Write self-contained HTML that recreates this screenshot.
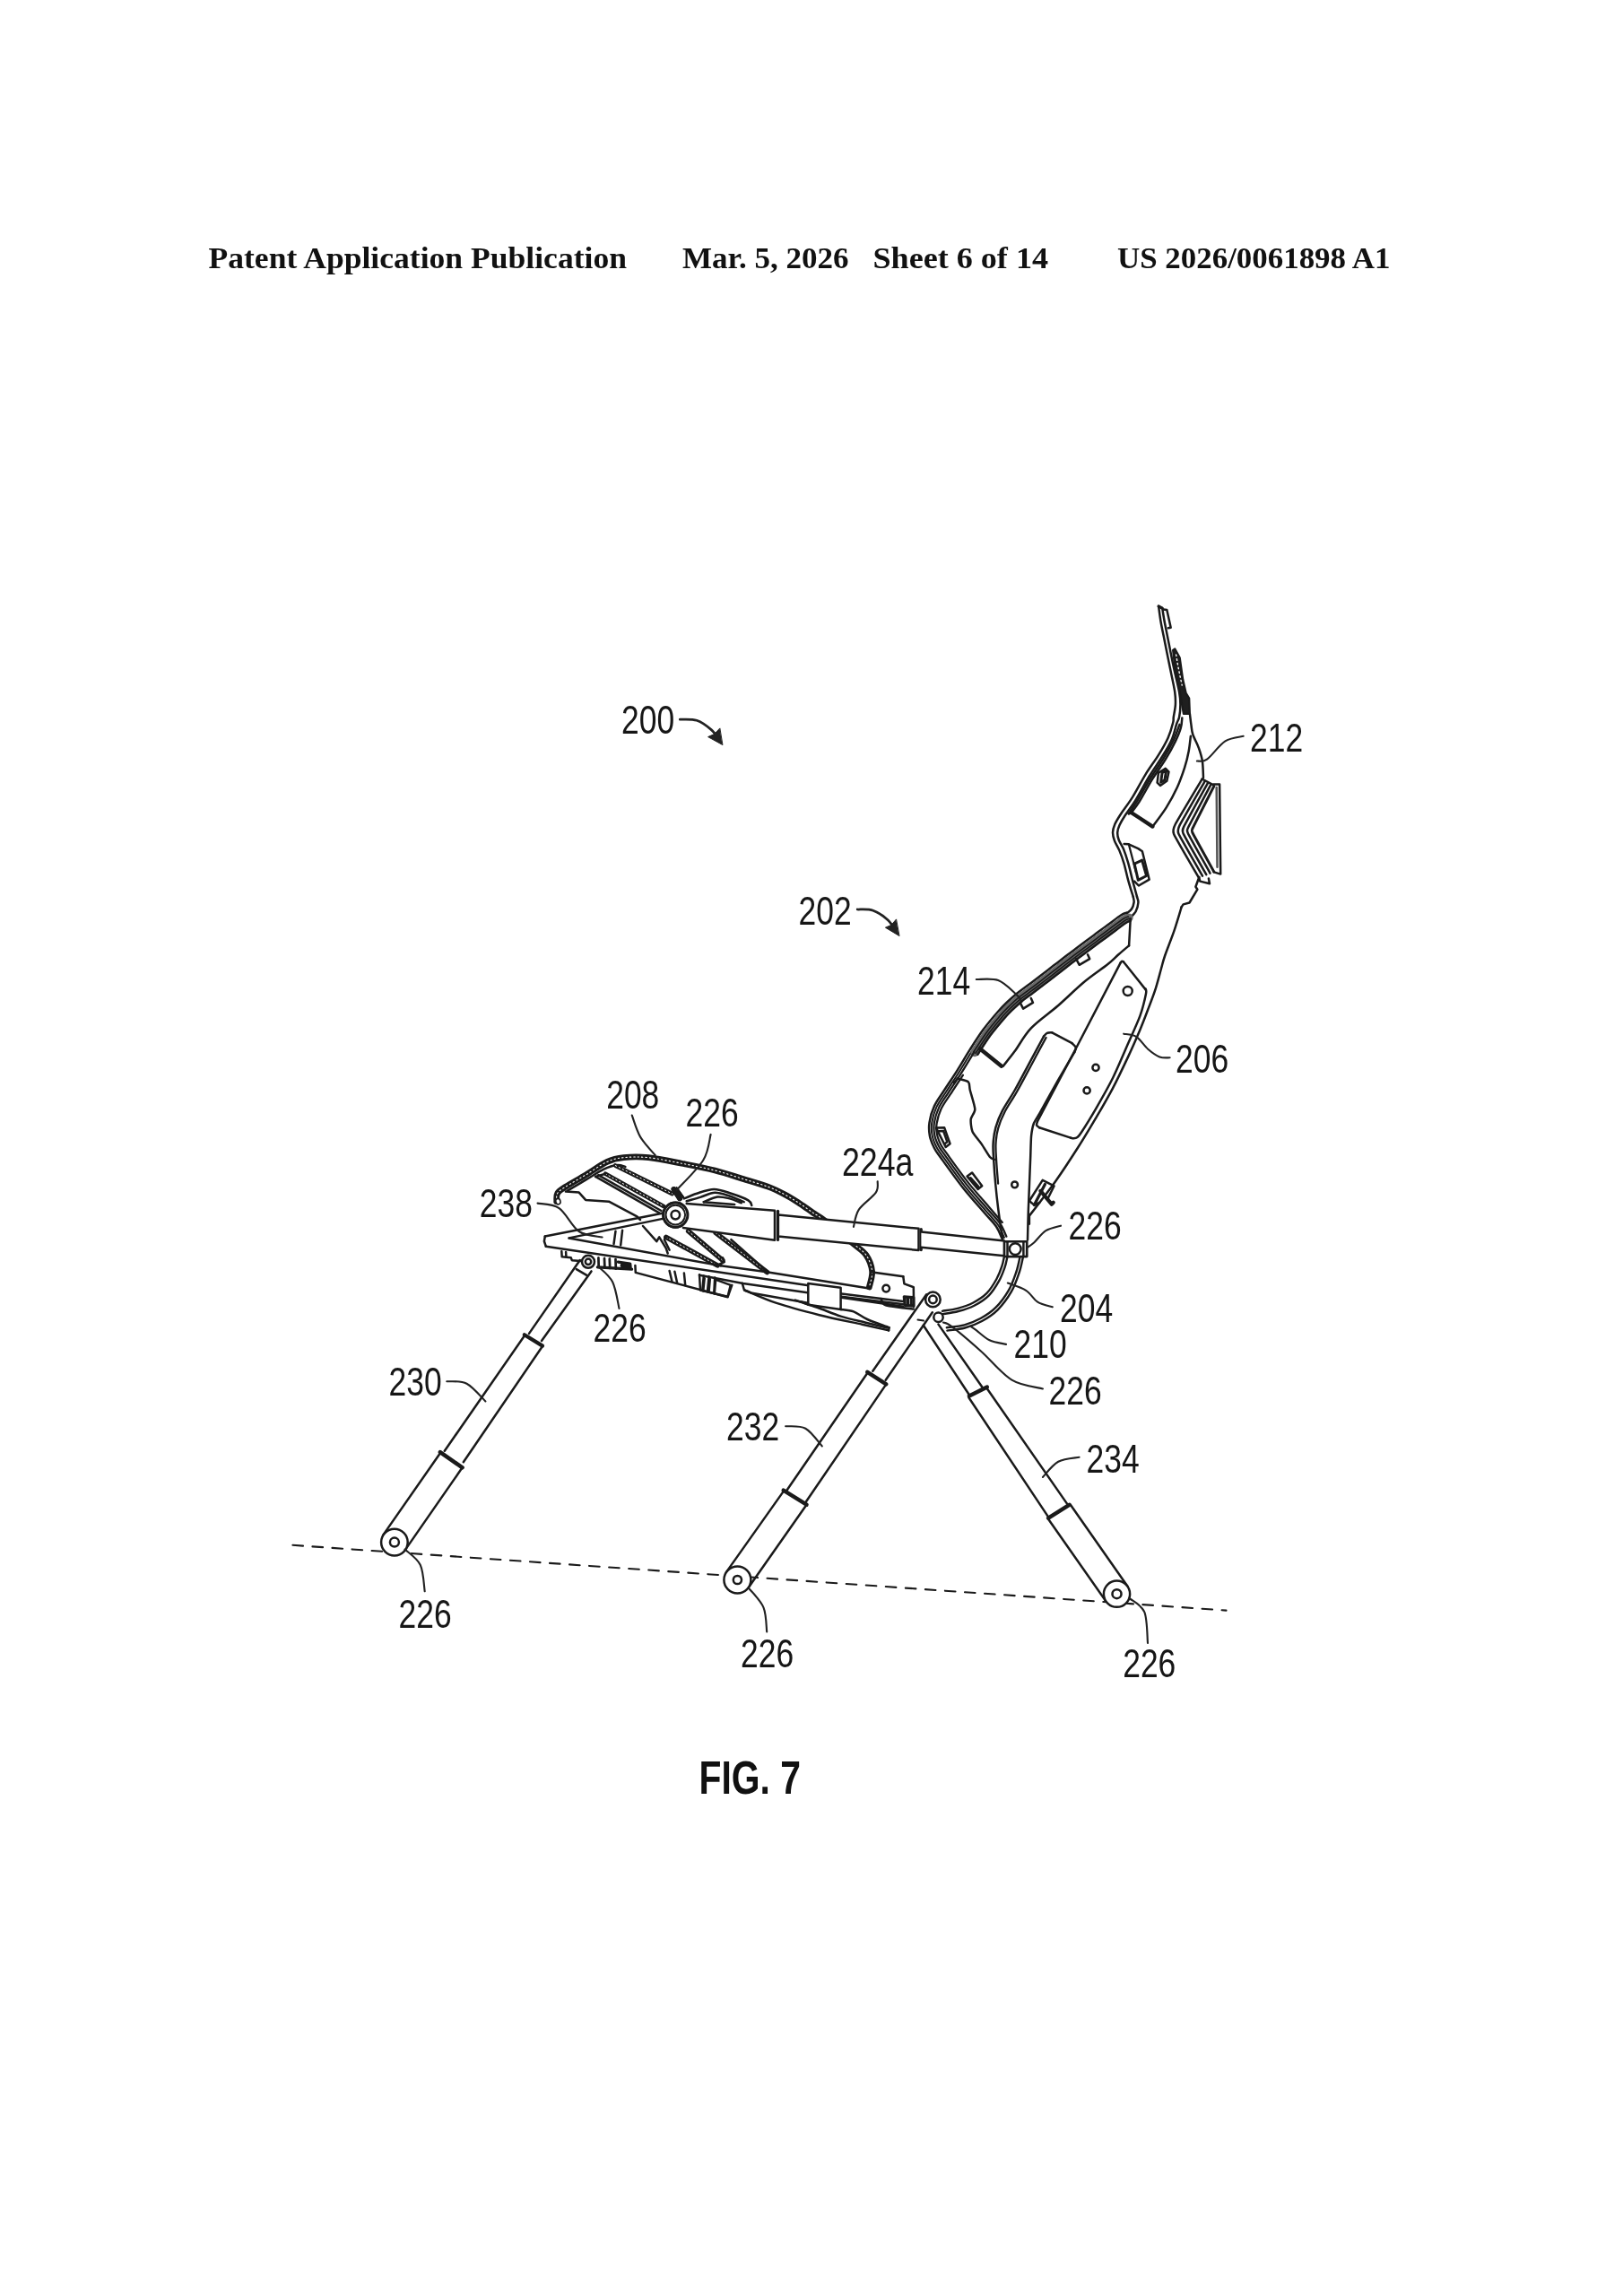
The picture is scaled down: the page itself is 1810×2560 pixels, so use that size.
<!DOCTYPE html>
<html><head><meta charset="utf-8"><title>FIG. 7</title>
<style>
html,body{margin:0;padding:0;background:#fff;}
body{width:1810px;height:2560px;overflow:hidden;font-family:"Liberation Sans",sans-serif;}
svg{position:absolute;left:0;top:0;display:block;filter:grayscale(1)}
svg path, svg polyline{fill:none;stroke-linecap:round;stroke-linejoin:round}
.hd{font-family:"Liberation Serif",serif;font-weight:bold;font-size:34px;fill:#111}
.lb{font-family:"Liberation Sans",sans-serif;font-size:43.5px;fill:#161616}
.fig{font-family:"Liberation Sans",sans-serif;font-weight:bold;font-size:51px;fill:#111}
</style></head><body>
<svg width="1810" height="2560" viewBox="0 0 1810 2560">
<rect x="0" y="0" width="1810" height="2560" fill="#ffffff" stroke="none"/>
<text x="232.5" y="298.6" class="hd" textLength="466.5" lengthAdjust="spacingAndGlyphs" text-anchor="start">Patent Application Publication</text>
<text x="761" y="298.6" class="hd" textLength="185.5" lengthAdjust="spacingAndGlyphs" text-anchor="start">Mar. 5, 2026</text>
<text x="973.5" y="298.6" class="hd" textLength="195.5" lengthAdjust="spacingAndGlyphs" text-anchor="start">Sheet 6 of 14</text>
<text x="1246" y="298.6" class="hd" textLength="304.5" lengthAdjust="spacingAndGlyphs" text-anchor="start">US 2026/0061898 A1</text>
<path d="M326.4 1722.8 L1367.5 1795.6" stroke="#1a1a1a" stroke-width="2.1" stroke-dasharray="11.6 10.5"/>
<path d="M646.8 1405 L590 1486.9" stroke="#1a1a1a" stroke-width="2.5" />
<path d="M659.5 1417.4 L604 1495" stroke="#1a1a1a" stroke-width="2.5" />
<path d="M642.8 1415.1 L654.3 1421.8" stroke="#1a1a1a" stroke-width="2.5" />
<path d="M584.8 1488.3 L605 1500.6" stroke="#1a1a1a" stroke-width="4.25" />
<path d="M584.6 1489.7 L495.8 1617.8" stroke="#1a1a1a" stroke-width="2.5" />
<path d="M604.3 1502 L516.8 1630.2" stroke="#1a1a1a" stroke-width="2.5" />
<path d="M490.9 1619.1 L515.6 1636.3" stroke="#1a1a1a" stroke-width="4.5" />
<path d="M490.9 1620.3 L427.2 1711.6" stroke="#1a1a1a" stroke-width="2.5" />
<path d="M515.6 1636.3 L452.2 1727.6" stroke="#1a1a1a" stroke-width="2.5" />
<circle cx="439.9" cy="1719.6" r="14.8" stroke="#1a1a1a" stroke-width="2.5" fill="#fff"/>
<circle cx="439.9" cy="1719.6" r="5" stroke="#1a1a1a" stroke-width="2.5" fill="none"/>
<path d="M1033.2 1443.3 L973.3 1528.7" stroke="#1a1a1a" stroke-width="2.5" />
<path d="M1039.8 1463.3 L987.7 1538.7" stroke="#1a1a1a" stroke-width="2.5" />
<path d="M967.3 1529.8 L988.3 1543.4" stroke="#1a1a1a" stroke-width="4.5" />
<path d="M967.3 1531 L877.4 1661.7" stroke="#1a1a1a" stroke-width="2.5" />
<path d="M988.3 1543.4 L898.3 1675.2" stroke="#1a1a1a" stroke-width="2.5" />
<path d="M873.7 1661.7 L899.5 1677.7" stroke="#1a1a1a" stroke-width="4.5" />
<path d="M873.7 1662.9 L810 1752.9" stroke="#1a1a1a" stroke-width="2.5" />
<path d="M899.5 1677.7 L834.8 1770" stroke="#1a1a1a" stroke-width="2.5" />
<circle cx="822.4" cy="1761.5" r="15" stroke="#1a1a1a" stroke-width="2.5" fill="#fff"/>
<circle cx="822.4" cy="1761.5" r="4.6" stroke="#1a1a1a" stroke-width="2.5" fill="none"/>
<path d="M1029.8 1477.7 L1080.9 1555.3" stroke="#1a1a1a" stroke-width="2.5" />
<path d="M1046.5 1476.6 L1095.3 1546.5" stroke="#1a1a1a" stroke-width="2.5" />
<path d="M1080.9 1556.5 L1100.8 1546.5" stroke="#1a1a1a" stroke-width="4.5" />
<path d="M1080.4 1558.3 L1169.1 1691.4" stroke="#1a1a1a" stroke-width="2.5" />
<path d="M1100.1 1547.2 L1190 1676.6" stroke="#1a1a1a" stroke-width="2.5" />
<path d="M1169.1 1692.6 L1192.5 1677.8" stroke="#1a1a1a" stroke-width="4.5" />
<path d="M1169.1 1693.8 L1233.5 1785.6" stroke="#1a1a1a" stroke-width="2.5" />
<path d="M1193.8 1677.8 L1257.5 1768.8" stroke="#1a1a1a" stroke-width="2.5" />
<circle cx="1245.5" cy="1777.2" r="14.6" stroke="#1a1a1a" stroke-width="2.5" fill="#fff"/>
<circle cx="1245.5" cy="1777.2" r="5" stroke="#1a1a1a" stroke-width="2.5" fill="none"/>
<text x="693" y="817.6" class="lb" textLength="59.1" lengthAdjust="spacingAndGlyphs" text-anchor="start">200</text>
<text x="890.5" y="1031.4" class="lb" textLength="59.1" lengthAdjust="spacingAndGlyphs" text-anchor="start">202</text>
<text x="1023" y="1108.9" class="lb" textLength="59.1" lengthAdjust="spacingAndGlyphs" text-anchor="start">214</text>
<text x="1394" y="837.5" class="lb" textLength="59.1" lengthAdjust="spacingAndGlyphs" text-anchor="start">212</text>
<text x="1311" y="1196.4" class="lb" textLength="59.1" lengthAdjust="spacingAndGlyphs" text-anchor="start">206</text>
<text x="676.2" y="1235.5" class="lb" textLength="59.1" lengthAdjust="spacingAndGlyphs" text-anchor="start">208</text>
<text x="764.5" y="1256.4" class="lb" textLength="59.1" lengthAdjust="spacingAndGlyphs" text-anchor="start">226</text>
<text x="534.8" y="1357.3" class="lb" textLength="59.1" lengthAdjust="spacingAndGlyphs" text-anchor="start">238</text>
<path d="M1292.1 676 C1292.5 679.1 1293.6 688.2 1294.8 694.8 C1296 701.4 1297.4 707.6 1299 715.7 C1300.6 723.8 1302.7 734.3 1304.6 743.6 C1306.5 752.9 1309.2 764.5 1310.2 771.5 C1311.2 778.5 1311.1 780.8 1310.9 785.4 C1310.7 790 1309.3 796 1308.8 799.4 C1308.3 802.8 1309.2 802.1 1308.1 806 C1307.1 809.9 1305.2 816.8 1302.6 822.7 C1300 828.5 1296.6 834.4 1292.4 841.1 C1288.3 847.9 1282.6 855.3 1277.6 863.3 C1272.7 871.3 1267.5 881.8 1262.8 889.2 C1258.2 896.6 1253.1 902.8 1249.9 907.7 C1246.7 912.6 1244.9 915.4 1243.4 918.8 C1242 922.2 1241.1 924.9 1241 928 C1240.9 931.1 1241.7 933.9 1242.9 937.3 C1244.1 940.7 1246.6 944 1248.4 948.4 C1250.2 952.7 1252 957.6 1253.6 963.1 C1255.2 968.7 1256.5 975.5 1258.2 981.6 C1259.9 987.8 1262.8 996.9 1263.8 999.9" stroke="#1a1a1a" stroke-width="2.5" />
<path d="M1296.2 678.1 C1296.7 680.9 1297.8 688.5 1299 694.8 C1300.2 701.1 1301.6 707.6 1303.2 715.7 C1304.8 723.8 1306.8 734.3 1308.8 743.6 C1310.8 752.9 1313.8 764.5 1315.1 771.5 C1316.4 778.5 1316.4 780.8 1316.4 785.4 C1316.4 790 1315.8 795.8 1315.1 799.4 C1314.4 803 1313.6 802.8 1312.2 807 C1310.8 811.1 1309.5 818.5 1306.8 824.5 C1304.2 830.5 1300.7 836.2 1296.5 843 C1292.3 849.8 1286.6 857.5 1281.7 865.5 C1276.8 873.6 1271.4 884.1 1266.9 891.4 C1262.4 898.8 1257.6 904.7 1254.5 909.5 C1251.4 914.3 1249.8 917.1 1248.4 920.3 C1247 923.4 1246.3 925.7 1246.2 928.4 C1246.1 931.1 1246.6 933.5 1247.7 936.5 C1248.8 939.5 1251.1 942.3 1252.9 946.5 C1254.6 950.7 1256.4 956 1258 961.7 C1259.7 967.4 1261.2 974.3 1262.8 980.7 C1264.5 987.1 1267.2 996.7 1268 999.9" stroke="#1a1a1a" stroke-width="2.5" />
<path d="M1292.1 676 L1296.2 678.1" stroke="#1a1a1a" stroke-width="3.25" />
<path d="M1297.4 679.4 L1301.3 680 L1305.7 699.7 L1302.8 700.3" stroke="#1a1a1a" stroke-width="2.5" />
<path d="M1308.1 724.8 L1310.2 743.6 L1315.7 771.5 L1319.9 795.9 L1326.9 795.9 L1326.2 778.5 L1322.7 772.9 L1319.2 757.6 L1315.7 733.2 L1310.2 723.4 Z" style="fill:#1f1f1f" stroke="#1a1a1a" stroke-width="2.2"/>
<path d="M1311.6 730 C1312 732.5 1313.1 739.3 1314.2 745 C1315.3 750.7 1317.5 760.8 1318.2 764" stroke="#fff" stroke-width="1.38" stroke-dasharray="1.6 3.2" stroke-linecap="butt"/>
<path d="M1318.3 800.5 C1318.1 802.3 1318.1 807.3 1316.8 811.6 C1315.6 815.9 1313.7 820.5 1310.9 826.4 C1308.1 832.2 1304.1 839.6 1299.8 846.7 C1295.5 853.8 1289.8 861.2 1285 868.9 C1280.3 876.6 1275 886.7 1271.2 892.9 C1267.3 899.1 1263.5 903.7 1261.9 905.8" stroke="#1a1a1a" stroke-width="2.5" />
<path d="M1315.5 807.9 C1314.4 810.6 1312 818.3 1309.1 824.5 C1306.1 830.7 1302.3 837.7 1298 844.8 C1293.7 852 1288 859.5 1283.2 867.4 C1278.3 875.3 1272.8 885.5 1268.8 892.2 C1264.7 898.8 1260.4 904.8 1258.8 907.3" stroke="#1a1a1a" stroke-width="2.5" />
<path d="M1326.9 795.9 C1327.2 797.9 1327.8 804.1 1328.4 807.9 C1329 811.7 1328.9 814.7 1330.3 819 C1331.7 823.3 1335 828.8 1336.8 833.8 C1338.5 838.7 1340 843 1340.9 848.5 C1341.7 854.1 1341.8 863.9 1342 867" stroke="#1a1a1a" stroke-width="2.5" />
<path d="M1327.9 820.8 C1327.5 823.6 1326.8 831.6 1325.7 837.4 C1324.6 843.3 1323.2 849.2 1321.1 855.9 C1318.9 862.7 1316.1 870.7 1312.8 878.1 C1309.4 885.5 1305.3 893.1 1300.7 900.3 C1296.2 907.5 1288 918 1285.4 921.6" stroke="#1a1a1a" stroke-width="2.5" />
<path d="M1261.9 906.2 L1285.4 921.6" stroke="#1a1a1a" stroke-width="4.25" />
<path d="M1261.9 906.2 L1258.8 907.3" stroke="#1a1a1a" stroke-width="2.5" />
<path d="M1291.9 861.8 L1299.8 856.9 L1303.5 860.6 L1301.3 870.7 L1293.9 875.9 L1290.6 872.6 L1291.9 861.8" stroke="#1a1a1a" stroke-width="2.5" />
<path d="M1296.1 861.5 L1300.7 859.3 L1298.9 869.8 L1294.6 872.2 L1296.1 861.5" stroke="#1a1a1a" stroke-width="3.0" />
<path d="M1253.6 941 L1258.8 941.3 L1269.3 946.1 L1273.9 949.3 L1281.7 980.7 L1269.9 987.5 L1265.1 982.6" stroke="#1a1a1a" stroke-width="2.5" />
<path d="M1265.1 963.1 L1273.6 959.1 L1278.6 976.5 L1269.3 981.3 L1265.1 963.1" stroke="#1a1a1a" stroke-width="3.0" />
<path d="M1258.8 941.3 L1266.9 972.4" stroke="#1a1a1a" stroke-width="2.25" />
<path d="M1340.5 868.9 C1338.7 871.9 1312.8 915.1 1310.9 918.8 C1309 922.4 1307.5 926.3 1309.1 929.9 C1310.6 933.4 1335.1 975.4 1336.8 978.3" stroke="#1a1a1a" stroke-width="2.5" />
<path d="M1343.8 870.8 C1342.1 873.8 1317.5 916.4 1315.7 919.9 C1313.9 923.5 1312.8 926.2 1314.3 929.6 C1315.8 933 1339.4 973.9 1341 976.7" stroke="#1a1a1a" stroke-width="2.5" />
<path d="M1347.1 872.8 C1345.5 875.7 1322.2 917.7 1320.5 921.1 C1318.9 924.5 1318.1 926.2 1319.6 929.4 C1321.1 932.7 1343.7 972.4 1345.3 975.2" stroke="#1a1a1a" stroke-width="2.5" />
<path d="M1350.5 874.7 C1349 877.5 1326.9 919 1325.3 922.2 C1323.8 925.5 1323.4 926.1 1324.9 929.2 C1326.3 932.3 1348.1 970.9 1349.5 973.6" stroke="#1a1a1a" stroke-width="2.5" />
<path d="M1353.8 876.6 C1352.4 879.4 1331.5 920.3 1330.1 923.4 C1328.7 926.5 1328.7 926 1330.1 928.9 C1331.5 931.9 1352.4 969.4 1353.8 972" stroke="#1a1a1a" stroke-width="3.0" />
<path d="M1340.5 868.5 L1353.4 875.3" stroke="#1a1a1a" stroke-width="2.5" />
<path d="M1353.4 874.4 L1360.1 874.4 L1361.2 974.6 L1353.8 972.4" stroke="#1a1a1a" stroke-width="2.5" />
<path d="M1356.7 878.1 L1357.5 966.8" stroke="#555" stroke-width="2.5" />
<path d="M1337.2 978.3 L1338.3 982.6 L1349 985.3 L1347.9 979.4" stroke="#1a1a1a" stroke-width="2.5" />
<path d="M1263.8 1000 C1263.9 1001 1264.9 1003.8 1264.6 1006 C1264.3 1008.2 1263.4 1011.4 1262 1013.5 C1260.6 1015.6 1257.2 1017.8 1256.3 1018.6" stroke="#1a1a1a" stroke-width="2.5" />
<path d="M1268 1000 C1268.2 1001.1 1269.7 1003.8 1269.4 1006.5 C1269.2 1009.2 1268 1013.7 1266.5 1016.5 C1265 1019.3 1261.2 1022.3 1260.2 1023.5" stroke="#1a1a1a" stroke-width="2.5" />
<path d="M1256.3 1017.6 C1255.2 1018.1 1253.5 1018.2 1250 1020.5 C1246.5 1022.8 1240.1 1027.8 1235 1031.5 C1229.9 1035.2 1224.6 1039.2 1219.6 1042.9 C1214.6 1046.6 1209.9 1050.1 1205 1053.8 C1200.1 1057.5 1195 1061.2 1190 1065 C1185 1068.8 1180.1 1072.7 1175 1076.6 C1169.9 1080.5 1164.4 1084.8 1159.6 1088.5 C1154.8 1092.2 1150.3 1095.5 1146 1098.8 C1141.7 1102 1137.7 1104.7 1133.7 1108 C1129.7 1111.3 1125.5 1115.1 1122 1118.5 C1118.5 1121.9 1116.8 1123.6 1112.5 1128.5 C1108.2 1133.4 1101.6 1141.1 1096.5 1148.1 C1091.4 1155 1086.7 1162.5 1081.8 1170.2 C1076.9 1177.9 1071.8 1186.8 1067 1194.3 C1062.2 1201.8 1057.3 1209 1053.1 1215.5 C1048.9 1222 1044.8 1227.1 1042 1233.1 C1039.2 1239.1 1037.3 1246 1036.5 1251.6 C1035.7 1257.1 1036 1261.6 1036.9 1266.4 C1037.8 1271.2 1039.8 1275.9 1042 1280.2 C1044.2 1284.5 1044.7 1284.6 1050 1292 C1055.3 1299.4 1066 1314.4 1074 1324.5 C1082 1334.6 1091.8 1345.3 1098 1352.5 C1104.2 1359.7 1107.8 1362.8 1111 1367.5 C1114.2 1372.2 1116.4 1378.8 1117.5 1381" stroke="#1a1a1a" stroke-width="2.5" />
<path d="M1257.4 1020.1 C1256.4 1020.5 1254.9 1020.5 1251.5 1022.8 C1248 1025 1241.6 1030 1236.6 1033.7 C1231.6 1037.4 1226.2 1041.4 1221.2 1045.1 C1216.2 1048.8 1211.5 1052.3 1206.6 1056 C1201.7 1059.6 1196.6 1063.4 1191.6 1067.1 C1186.6 1070.9 1181.7 1074.8 1176.7 1078.7 C1171.6 1082.7 1166.1 1086.9 1161.2 1090.6 C1156.4 1094.3 1151.9 1097.7 1147.6 1101 C1143.3 1104.2 1139.4 1106.8 1135.4 1110.1 C1131.5 1113.3 1127.4 1117.1 1123.9 1120.4 C1120.4 1123.8 1118.7 1125.4 1114.5 1130.3 C1110.3 1135.1 1103.8 1142.8 1098.7 1149.7 C1093.6 1156.6 1089 1164 1084.1 1171.7 C1079.2 1179.3 1074.1 1188.2 1069.3 1195.7 C1064.5 1203.3 1059.5 1210.5 1055.4 1217 C1051.2 1223.4 1047.2 1228.4 1044.5 1234.2 C1041.8 1240.1 1040 1246.7 1039.2 1252 C1038.4 1257.3 1038.7 1261.4 1039.6 1265.9 C1040.4 1270.4 1042.3 1274.9 1044.4 1279 C1046.5 1283.1 1046.9 1283.1 1052.2 1290.4 C1057.5 1297.7 1068.1 1312.8 1076.1 1322.8 C1084.1 1332.9 1093.9 1343.5 1100 1350.7 C1106.2 1357.9 1109.9 1361.1 1113.2 1366 C1116.5 1370.8 1118.8 1377.5 1119.9 1379.8" stroke="#1a1a1a" stroke-width="2.0" />
<path d="M1258.9 1023.3 C1258 1023.7 1256.8 1023.6 1253.4 1025.8 C1250.1 1028 1243.8 1032.9 1238.7 1036.6 C1233.7 1040.3 1228.4 1044.2 1223.4 1048 C1218.4 1051.7 1213.7 1055.2 1208.8 1058.8 C1203.8 1062.5 1198.8 1066.2 1193.8 1070 C1188.8 1073.8 1183.9 1077.7 1178.9 1081.6 C1173.8 1085.5 1168.3 1089.8 1163.4 1093.5 C1158.6 1097.2 1154.1 1100.6 1149.8 1103.8 C1145.5 1107.1 1141.6 1109.7 1137.7 1112.9 C1133.8 1116.1 1129.8 1119.7 1126.4 1123 C1123 1126.3 1121.4 1127.8 1117.3 1132.6 C1113.1 1137.4 1106.6 1145 1101.6 1151.8 C1096.5 1158.7 1089.5 1170 1087 1173.7" stroke="#6a6a6a" stroke-width="9.5" stroke-dasharray="2.2 1.2" stroke-linecap="butt"/>
<path d="M1258.3 1022 C1257.4 1022.4 1256 1022.3 1252.6 1024.5 C1249.2 1026.8 1242.9 1031.7 1237.8 1035.4 C1232.8 1039.1 1227.5 1043 1222.5 1046.8 C1217.5 1050.5 1212.8 1054 1207.9 1057.6 C1202.9 1061.3 1197.9 1065 1192.9 1068.8 C1187.9 1072.6 1183 1076.5 1177.9 1080.4 C1172.9 1084.3 1167.4 1088.6 1162.5 1092.3 C1157.7 1096 1153.2 1099.4 1148.9 1102.6 C1144.6 1105.9 1140.7 1108.5 1136.7 1111.7 C1132.8 1114.9 1128.8 1118.6 1125.3 1122 C1121.9 1125.3 1120.3 1126.8 1116.1 1131.6 C1112 1136.5 1105.4 1144.1 1100.4 1150.9 C1095.3 1157.8 1088.2 1169.2 1085.8 1172.9" stroke="#1a1a1a" stroke-width="1.62" />
<path d="M1259.4 1024.3 C1258.5 1024.7 1257.4 1024.5 1254 1026.7 C1250.7 1028.9 1244.4 1033.8 1239.4 1037.5 C1234.4 1041.1 1229 1045.1 1224 1048.8 C1219 1052.6 1214.4 1056.1 1209.4 1059.7 C1204.5 1063.4 1199.5 1067.1 1194.5 1070.9 C1189.5 1074.7 1184.6 1078.5 1179.5 1082.5 C1174.5 1086.4 1168.9 1090.7 1164.1 1094.4 C1159.3 1098.1 1154.7 1101.5 1150.5 1104.7 C1146.2 1107.9 1142.3 1110.5 1138.4 1113.7 C1134.5 1116.9 1130.5 1120.6 1127.1 1123.8 C1123.8 1127.1 1122.2 1128.6 1118.1 1133.3 C1114 1138.1 1107.5 1145.7 1102.5 1152.5 C1097.4 1159.3 1090.4 1170.7 1088 1174.3" stroke="#1a1a1a" stroke-width="1.62" />
<path d="M1260.6 1026.9 C1259.7 1027.2 1258.8 1026.9 1255.6 1029 C1252.3 1031.2 1246 1036 1241.1 1039.7 C1236.1 1043.4 1230.7 1047.4 1225.7 1051.1 C1220.7 1054.8 1216 1058.3 1211.1 1062 C1206.2 1065.6 1201.1 1069.3 1196.2 1073.1 C1191.2 1076.9 1186.3 1080.8 1181.2 1084.7 C1176.2 1088.6 1170.7 1092.9 1165.8 1096.6 C1160.9 1100.3 1156.4 1103.7 1152.1 1106.9 C1147.9 1110.2 1144 1112.7 1140.2 1115.9 C1136.3 1119 1132.4 1122.6 1129.1 1125.8 C1125.8 1129 1124.3 1130.4 1120.2 1135.2 C1116.2 1139.9 1109.7 1147.4 1104.7 1154.1 C1099.7 1160.9 1092.7 1172.2 1090.3 1175.8" stroke="#1a1a1a" stroke-width="2.5" />
<path d="M1086.4 1173 C1083.9 1177.1 1076.4 1189.6 1071.6 1197.2 C1066.8 1204.8 1061.7 1212.1 1057.6 1218.4 C1053.5 1224.8 1049.5 1229.7 1046.9 1235.4 C1044.3 1241 1042.6 1247.4 1041.8 1252.4 C1041.1 1257.4 1041.4 1261.2 1042.2 1265.4 C1043 1269.6 1044.8 1273.8 1046.8 1277.7 C1048.8 1281.6 1049.1 1281.6 1054.4 1288.8 C1059.6 1296.1 1070.3 1311.1 1078.2 1321.1 C1086.2 1331.2 1095.9 1341.8 1102.1 1349 C1108.3 1356.2 1112.1 1359.5 1115.5 1364.5 C1118.8 1369.4 1121.2 1376.3 1122.4 1378.7" stroke="#1a1a1a" stroke-width="2.25" />
<path d="M1073.9 1198.8 C1071.5 1202.3 1064.1 1213.7 1060 1219.9 C1055.9 1226.2 1052 1231 1049.5 1236.5 C1046.9 1242 1045.4 1248.1 1044.6 1252.8 C1043.9 1257.6 1044.2 1260.9 1045 1264.9 C1045.7 1268.8 1047.4 1272.7 1049.3 1276.5 C1051.2 1280.2 1051.5 1280 1056.6 1287.2 C1061.8 1294.4 1072.5 1309.4 1080.4 1319.4 C1088.4 1329.4 1098 1339.9 1104.2 1347.2 C1110.4 1354.4 1115.5 1360.2 1117.8 1362.9" stroke="#1a1a1a" stroke-width="2.25" />
<path d="M1260.7 1024.3 L1259.1 1054.3" stroke="#1a1a1a" stroke-width="2.5" />
<path d="M1259.1 1054.3 C1257.2 1055.9 1251.4 1060.7 1247.4 1064.3 C1243.4 1067.8 1241.7 1070.2 1235.2 1075.3 C1228.7 1080.5 1217.8 1087.6 1208.6 1095.3 C1199.4 1103 1189.7 1112.8 1180 1121.3 C1170.3 1129.8 1158.1 1137.7 1150.1 1146.2 C1142 1154.7 1136.9 1165 1131.7 1172.1 C1126.5 1179.2 1120.9 1185.9 1118.7 1188.7" stroke="#1a1a1a" stroke-width="2.5" />
<path d="M1092.8 1169.3 L1116.9 1188.7" stroke="#1a1a1a" stroke-width="4.5" />
<path d="M1200.1 1069.1 L1203.7 1075.8 L1215.2 1069.1 L1213 1064.3" stroke="#1a1a1a" stroke-width="2.5" />
<path d="M1137.6 1117.9 L1141.1 1124.6 L1152 1117.9 L1149.8 1113" stroke="#1a1a1a" stroke-width="2.5" />
<path d="M1337.3 978 L1333.4 988.7 L1335.4 991.7 L1326.5 1006.5 L1319.6 1008.4 L1317.6 1011.4" stroke="#1a1a1a" stroke-width="2.5" />
<path d="M1317.6 1011.4 C1316.3 1015.8 1312.6 1028.5 1309.5 1037.6 C1306.4 1046.7 1301.4 1058.9 1299 1066 C1296.6 1073.1 1296.7 1074 1295 1080 C1293.3 1086 1291.2 1094.5 1288.9 1101.8 C1286.6 1109.1 1283.9 1115.9 1281 1123.6 C1278.1 1131.3 1275.3 1138.9 1271.5 1147.9 C1267.7 1156.9 1263.5 1166.7 1258.4 1177.6 C1253.3 1188.5 1247.1 1201.7 1241 1213.3 C1234.9 1224.9 1228.3 1236.1 1221.8 1247.2 C1215.3 1258.3 1209.2 1268.4 1201.8 1280 C1194.4 1291.6 1184.4 1306.8 1177.4 1316.8 C1170.4 1326.8 1164.9 1333.5 1160 1340 C1155.1 1346.5 1149.9 1353 1147.9 1355.6" stroke="#1a1a1a" stroke-width="2.5" />
<path d="M1252.8 1072.3 L1277.4 1103.1" stroke="#1a1a1a" stroke-width="2.5" />
<path d="M1277.6 1102.6 C1277.7 1103.3 1278.8 1103.9 1278 1107.9 C1277.2 1111.9 1274.1 1125 1271.5 1132.3 C1268.9 1139.6 1262.5 1153.5 1258.4 1162.8 C1254.3 1172.1 1245.9 1192.1 1241 1202 C1236.1 1211.9 1226.5 1228.7 1221.8 1236.8 C1217.1 1244.9 1208.7 1258.3 1206 1262.5 C1203.3 1266.7 1202.7 1267.1 1201.5 1268 C1200.3 1268.9 1198.3 1269.2 1197.3 1269.3 C1196.3 1269.4 1194.4 1268.7 1194 1268.6" stroke="#1a1a1a" stroke-width="2.5" />
<path d="M1194 1268.6 L1159.1 1257.2" stroke="#1a1a1a" stroke-width="2.5" />
<path d="M1159.1 1257.2 C1158.6 1256.8 1156.4 1255.8 1156.1 1254.7 C1155.7 1253.6 1156.8 1251.1 1156.9 1250.4" stroke="#1a1a1a" stroke-width="2.5" />
<path d="M1156.9 1250.4 L1198.6 1171.5 L1249.7 1073.3" stroke="#1a1a1a" stroke-width="2.5" />
<path d="M1249.7 1073.3 C1249.9 1073.1 1250.6 1072 1251.1 1071.8 C1251.6 1071.7 1252.5 1072.2 1252.8 1072.3" stroke="#1a1a1a" stroke-width="2.5" />
<circle cx="1257.7" cy="1105" r="5" stroke="#1a1a1a" stroke-width="2.5" fill="none"/>
<circle cx="1222" cy="1190.4" r="3.6" stroke="#1a1a1a" stroke-width="2.5" fill="none"/>
<circle cx="1212.1" cy="1215.9" r="3.6" stroke="#1a1a1a" stroke-width="2.5" fill="none"/>
<path d="M1164 1155.5 C1161.7 1159.8 1155.5 1171.3 1150.1 1181.3 C1144.7 1191.3 1137.1 1206 1131.7 1215.5 C1126.3 1225 1121.3 1231.7 1117.8 1238.6 C1114.2 1245.5 1112.1 1250.9 1110.4 1257.1 C1108.7 1263.3 1107.9 1269.3 1107.6 1275.6 C1107.2 1281.9 1107.9 1287.6 1108.3 1295 C1108.7 1302.4 1109.4 1311.5 1110.2 1320 C1111 1328.5 1112 1338 1113 1346 C1114 1354 1115.1 1362.1 1116 1368 C1116.9 1373.9 1117.9 1379.2 1118.3 1381.5" stroke="#1a1a1a" stroke-width="2.5" />
<path d="M1166.6 1156.9 C1164.2 1161.2 1158 1172.7 1152.7 1182.7 C1147.3 1192.7 1139.6 1207.4 1134.2 1216.9 C1128.8 1226.5 1123.9 1233.1 1120.4 1239.9 C1116.9 1246.7 1114.8 1251.9 1113.2 1257.9 C1111.5 1263.8 1110.8 1269.6 1110.5 1275.8 C1110.2 1281.9 1110.8 1287.5 1111.2 1294.8 C1111.6 1302.2 1112.8 1315.6 1113.1 1319.7" stroke="#1a1a1a" stroke-width="2.25" />
<path d="M1164 1155.5 C1164.6 1154.9 1166.2 1152.5 1167.7 1151.8 C1169.2 1151.1 1172.4 1151.4 1173.3 1151.3" stroke="#1a1a1a" stroke-width="2.5" />
<path d="M1173.3 1151.3 L1195.6 1163.2" stroke="#1a1a1a" stroke-width="2.5" />
<path d="M1195.6 1163.2 C1196.3 1164 1199.3 1166.3 1199.8 1168 C1200.2 1169.7 1198.5 1172.3 1198.3 1173.2" stroke="#1a1a1a" stroke-width="2.5" />
<path d="M1198.3 1173.2 C1196.5 1176.3 1183.9 1197.6 1180 1204.4 C1176.1 1211.2 1162.1 1236.6 1159.4 1241.4 C1156.7 1246.2 1153.8 1250 1152.9 1252.5 C1152 1255 1150.5 1262.7 1150.1 1266.4 C1149.7 1270.2 1149.4 1284.6 1149.2 1290 C1149 1295.4 1148.2 1314 1148 1320 C1147.8 1326 1147 1343.8 1146.8 1350 C1146.6 1356.2 1146.1 1379.2 1146 1382.4" stroke="#1a1a1a" stroke-width="2.5" />
<path d="M1067.9 1202.6 C1069.3 1203 1078.3 1204.8 1079.9 1206.3 C1081.5 1207.8 1080.9 1211.9 1081.8 1215.5 C1082.7 1219.1 1087.2 1233 1087.3 1236.8 C1087.4 1240.6 1083 1245 1082.7 1247.9 C1082.4 1250.8 1083.1 1258.5 1084.5 1261.7 C1085.9 1264.9 1092.4 1272.3 1094.7 1275.6 C1097 1278.9 1102.2 1288 1103.9 1290 C1105.6 1292 1108.4 1292.5 1109 1292.8" stroke="#1a1a1a" stroke-width="2.5" />
<path d="M1067.9 1202.6 L1064 1207" stroke="#1a1a1a" stroke-width="2.5" />
<path d="M1044 1257.6 L1053.2 1257.3 L1059.5 1275.2 L1054.7 1278.9 L1044 1257.6" stroke="#1a1a1a" stroke-width="2.5" />
<path d="M1047.1 1261.3 L1052.1 1261 L1056.4 1273.3 L1053.6 1275.2" stroke="#1a1a1a" stroke-width="2.5" />
<path d="M1078.6 1311.6 L1084.1 1307.5 L1095.2 1322.3 L1090.6 1326 L1078.6 1311.6" stroke="#1a1a1a" stroke-width="2.5" />
<path d="M1082.3 1314 L1090.6 1323.3" stroke="#1a1a1a" stroke-width="3.75" />
<circle cx="1131.6" cy="1320.9" r="3.4" stroke="#1a1a1a" stroke-width="2.5" fill="none"/>
<path d="M1147.9 1355.6 L1147.9 1364.8" stroke="#1a1a1a" stroke-width="2.5" />
<path d="M1147.9 1339 L1162.7 1315.9 L1175.6 1322.3 L1169.1 1335.3" stroke="#1a1a1a" stroke-width="2.5" />
<path d="M1153.4 1343.6 L1165.4 1320.5" stroke="#1a1a1a" stroke-width="3.25" />
<path d="M1160.4 1327.9 L1172.8 1342.7 L1174.7 1340.8" stroke="#1a1a1a" stroke-width="4.25" />
<path d="M1147.9 1339 L1153.4 1343.6 L1159.3 1340.8" stroke="#1a1a1a" stroke-width="2.5" />
<path d="M1120.1 1384.3 L1145.1 1384.3 L1145.1 1400.9 L1120.1 1400.9 L1120.1 1384.3" stroke="#1a1a1a" stroke-width="2.5" />
<circle cx="1132.2" cy="1392.6" r="6.4" stroke="#1a1a1a" stroke-width="2.5" fill="#fff"/>
<path d="M1123.5 1385.2 L1123.5 1400" stroke="#1a1a1a" stroke-width="2.5" />
<path d="M1141.4 1385.2 L1141.4 1400" stroke="#1a1a1a" stroke-width="2.5" />
<path d="M1119.9 1401.1 C1119.5 1402.9 1118.8 1407.6 1117.4 1411.7 C1116 1415.9 1114.1 1421.2 1111.3 1426.3 C1108.5 1431.3 1104.9 1437.5 1100.5 1441.9 C1096.1 1446.3 1090.3 1449.9 1084.9 1452.7 C1079.5 1455.5 1073.6 1457.2 1068 1458.8 C1062.3 1460.3 1053.7 1461.3 1050.9 1461.8" stroke="#1a1a1a" stroke-width="2.38" />
<path d="M1123.3 1401.9 C1122.8 1403.7 1122.1 1408.5 1120.6 1412.9 C1119.1 1417.2 1117.2 1422.7 1114.3 1427.9 C1111.3 1433.2 1107.5 1439.7 1102.9 1444.3 C1098.3 1448.9 1092.2 1452.8 1086.5 1455.7 C1080.8 1458.7 1074.7 1460.5 1068.8 1462 C1063 1463.6 1054.4 1464.7 1051.5 1465.2" stroke="#1a1a1a" stroke-width="2.38" />
<path d="M1137.5 1401.1 C1136.9 1403.9 1135.5 1411.7 1133.4 1418 C1131.3 1424.2 1128.8 1431.9 1124.9 1438.6 C1121.1 1445.2 1115.6 1452.7 1110.4 1457.9 C1105.2 1463.1 1099.3 1466.8 1093.5 1470 C1087.6 1473.2 1081.6 1475.6 1075.4 1477.3 C1069.1 1479 1059.1 1479.7 1055.8 1480.2" stroke="#1a1a1a" stroke-width="2.38" />
<path d="M1140.9 1401.9 C1140.1 1404.8 1138.8 1412.7 1136.6 1419 C1134.4 1425.4 1131.8 1433.4 1127.9 1440.2 C1123.9 1447.1 1118.3 1454.8 1112.8 1460.3 C1107.3 1465.8 1101.2 1469.6 1095.1 1473 C1089 1476.4 1082.7 1478.8 1076.2 1480.5 C1069.8 1482.3 1059.7 1483.1 1056.4 1483.6" stroke="#1a1a1a" stroke-width="2.38" />
<path d="M620.7 1339.7 C620.9 1338.2 620 1333.3 621.7 1330.5 C623.4 1327.7 625.7 1326.5 630.9 1323.1 C636.1 1319.7 645.4 1314.7 653.1 1310.1 C660.8 1305.5 670 1298.6 677.1 1295.4 C684.2 1292.2 687.9 1291.5 695.6 1290.7 C703.3 1289.9 712.5 1289.6 723.3 1290.7 C734.1 1291.8 748 1294.8 760.3 1297.2 C772.6 1299.6 785.9 1302.1 797.3 1305 C808.7 1307.9 818.9 1311.5 828.8 1314.5 C838.6 1317.5 848.6 1320.3 856.4 1323.2 C864.2 1326.1 869.5 1328.9 875.5 1332.1 C881.5 1335.2 886.9 1338.8 892.1 1342.1 C897.3 1345.4 902.6 1349.5 906.5 1352.1 C910.4 1354.7 910.8 1354.4 915.4 1357.7 C920 1361 927.9 1367.1 934 1372 C940.1 1376.9 946.6 1382.4 951.9 1387 C957.2 1391.6 962.5 1394.4 966 1399.5 C969.5 1404.6 972 1411.6 972.6 1417.5 C973.2 1423.4 969.9 1432.1 969.4 1435" stroke="#1a1a1a" stroke-width="6.75" />
<path d="M620.7 1339.7 C620.9 1338.2 620 1333.3 621.7 1330.5 C623.4 1327.7 625.7 1326.5 630.9 1323.1 C636.1 1319.7 645.4 1314.7 653.1 1310.1 C660.8 1305.5 670 1298.6 677.1 1295.4 C684.2 1292.2 687.9 1291.5 695.6 1290.7 C703.3 1289.9 712.5 1289.6 723.3 1290.7 C734.1 1291.8 748 1294.8 760.3 1297.2 C772.6 1299.6 785.9 1302.1 797.3 1305 C808.7 1307.9 818.9 1311.5 828.8 1314.5 C838.6 1317.5 848.6 1320.3 856.4 1323.2 C864.2 1326.1 869.5 1328.9 875.5 1332.1 C881.5 1335.2 886.9 1338.8 892.1 1342.1 C897.3 1345.4 902.6 1349.5 906.5 1352.1 C910.4 1354.7 910.8 1354.4 915.4 1357.7 C920 1361 927.9 1367.1 934 1372 C940.1 1376.9 946.6 1382.4 951.9 1387 C957.2 1391.6 962.5 1394.4 966 1399.5 C969.5 1404.6 972 1411.6 972.6 1417.5 C973.2 1423.4 969.9 1432.1 969.4 1435" stroke="#fff" stroke-width="1.12" stroke-dasharray="1.4 3" stroke-linecap="butt"/>
<ellipse cx="622.4" cy="1339.6" rx="2.6" ry="3.2" fill="#fff" stroke="#1a1a1a" stroke-width="1.6" transform="rotate(-15 622.4 1339.6)"/>
<path d="M632.8 1327.7 C636.1 1325.7 646.3 1319.7 653.1 1315.7 C659.9 1311.7 667.6 1306.5 673.4 1303.7 C679.3 1300.9 684.2 1299.5 688.2 1299.1 C692.2 1298.6 695.9 1300.6 697.4 1300.9" stroke="#1a1a1a" stroke-width="2.5" />
<path d="M630.9 1328.6 L645.7 1329.6 L653.1 1337.9 L679 1339.7 L710.4 1356.4 L714 1360" stroke="#1a1a1a" stroke-width="2.5" />
<path d="M717 1367 L732.3 1384.2 L735.2 1379.4 L742.8 1391.8 L744.7 1397.5" stroke="#1a1a1a" stroke-width="2.5" />
<path d="M686.3 1299.6 L749.7 1331" stroke="#1a1a1a" stroke-width="4.75" />
<path d="M686.3 1299.6 L749.7 1331" stroke="#fff" stroke-width="1.0" stroke-dasharray="1.4 3" stroke-linecap="butt"/>
<path d="M675.2 1308.8 L740.5 1345.2" stroke="#1a1a1a" stroke-width="4.75" />
<path d="M675.2 1308.8 L740.5 1345.2" stroke="#fff" stroke-width="1.0" stroke-dasharray="1.4 3" stroke-linecap="butt"/>
<path d="M664.1 1311.9 L735.6 1352.6" stroke="#1a1a1a" stroke-width="2.5" />
<path d="M667.2 1310.2 L737.5 1350" stroke="#1a1a1a" stroke-width="2.5" />
<path d="M664.1 1311.9 L675.2 1308.8" stroke="#1a1a1a" stroke-width="2.5" />
<path d="M742.8 1379.4 L800.1 1410.9" stroke="#1a1a1a" stroke-width="5.5" />
<path d="M742.8 1379.4 L800.1 1410.9" stroke="#fff" stroke-width="1.0" stroke-dasharray="1.4 3" stroke-linecap="butt"/>
<path d="M767.6 1372.7 L805.8 1405.2" stroke="#1a1a1a" stroke-width="5.5" />
<path d="M767.6 1372.7 L805.8 1405.2" stroke="#fff" stroke-width="1.0" stroke-dasharray="1.4 3" stroke-linecap="butt"/>
<path d="M798.2 1374.6 L855.5 1418.5" stroke="#1a1a1a" stroke-width="5.5" />
<path d="M798.2 1374.6 L855.5 1418.5" stroke="#fff" stroke-width="1.0" stroke-dasharray="1.4 3" stroke-linecap="butt"/>
<path d="M800.1 1410.9 L807.7 1407.1 L805.8 1402.3" stroke="#1a1a1a" stroke-width="2.75" />
<path d="M742.8 1379.4 L740.9 1382.2 L746.6 1393.7" stroke="#1a1a1a" stroke-width="2.5" />
<path d="M815.4 1382.2 L847.9 1410.9 L855.5 1418.5" stroke="#1a1a1a" stroke-width="2.5" />
<path d="M762.9 1336.4 C765.2 1335.4 771.6 1332.4 777.2 1330.7 C782.8 1328.9 789.9 1325.9 796.3 1325.9 C802.7 1325.9 809 1328.6 815.4 1330.7 C821.8 1332.7 830.7 1336.1 834.5 1338.3 C838.3 1340.5 837.7 1343.1 838.3 1344" stroke="#1a1a1a" stroke-width="2.5" />
<path d="M765.7 1339.3 C768.3 1338.5 775.8 1336.5 781 1334.9 C786.3 1333.3 791.8 1329.9 797.2 1329.7 C802.7 1329.5 808.1 1331.8 813.5 1333.5 C818.9 1335.3 827 1339.1 829.7 1340.2" stroke="#1a1a1a" stroke-width="2.5" />
<path d="M784.8 1340.2 C787.4 1339.3 795.3 1335.1 800.1 1334.5 C804.9 1333.9 809 1335.3 813.5 1336.4 C817.9 1337.5 824.6 1340.4 826.8 1341.2" stroke="#1a1a1a" stroke-width="2.5" />
<path d="M784.8 1340.2 L819.2 1343.1" stroke="#1a1a1a" stroke-width="2.5" />
<path d="M751.4 1325.9 L758.1 1336.4" stroke="#1a1a1a" stroke-width="5.62" />
<path d="M754.6 1324.6 L761.9 1334.9" stroke="#1a1a1a" stroke-width="2.5" />
<path d="M607.8 1378.5 L740 1352.4" stroke="#1a1a1a" stroke-width="2.5" />
<path d="M634.6 1380.4 L739 1358.9" stroke="#1a1a1a" stroke-width="2.5" />
<path d="M607.8 1378.5 L606.9 1384 L608.9 1389.8" stroke="#1a1a1a" stroke-width="2.5" />
<path d="M634.6 1380.4 L803.9 1411.3" stroke="#1a1a1a" stroke-width="2.5" />
<path d="M608.9 1389.8 L900 1432.9" stroke="#1a1a1a" stroke-width="2.5" />
<path d="M684.5 1387 L686.5 1372.7" stroke="#1a1a1a" stroke-width="2.5" />
<path d="M692.2 1388.4 L694.1 1371.7" stroke="#1a1a1a" stroke-width="2.5" />
<circle cx="753.3" cy="1354.6" r="13.6" stroke="#1a1a1a" stroke-width="3.0" fill="#fff"/>
<circle cx="753.3" cy="1354.6" r="10.8" stroke="#1a1a1a" stroke-width="2.0" fill="none"/>
<circle cx="753.3" cy="1354.6" r="4.8" stroke="#1a1a1a" stroke-width="2.5" fill="none"/>
<path d="M626.3 1395.2 L626.7 1401.3 L636.8 1402.3 L637.8 1405.2 L647.3 1406.1" stroke="#1a1a1a" stroke-width="2.5" />
<path d="M631.1 1396 L631.4 1401.3" stroke="#1a1a1a" stroke-width="2.5" />
<path d="M667.4 1402.3 L667.7 1412.8" stroke="#1a1a1a" stroke-width="2.75" />
<path d="M674 1403 L674.4 1413.5" stroke="#1a1a1a" stroke-width="2.75" />
<path d="M679.8 1403.5 L680.2 1414" stroke="#1a1a1a" stroke-width="2.75" />
<path d="M686.5 1404.2 L686.8 1414.7" stroke="#1a1a1a" stroke-width="2.75" />
<path d="M666.4 1412.8 L704.6 1415.1" stroke="#1a1a1a" stroke-width="3.25" />
<path d="M689.3 1407.1 L702.7 1409 L703.1 1413.9" stroke="#1a1a1a" stroke-width="3.25" />
<path d="M694.1 1410.9 L701.7 1411.8" stroke="#1a1a1a" stroke-width="5.0" />
<circle cx="656" cy="1406.8" r="7" stroke="#1a1a1a" stroke-width="2.5" fill="#fff"/>
<circle cx="656" cy="1406.8" r="3.2" stroke="#1a1a1a" stroke-width="2.5" fill="none"/>
<path d="M708.4 1410.9 L708.8 1418.9 L811.6 1446.2 L816.3 1432.9" stroke="#1a1a1a" stroke-width="2.5" />
<path d="M746.6 1417 L749.5 1429" stroke="#1a1a1a" stroke-width="2.5" />
<path d="M752.4 1417.8 L755.2 1430.6" stroke="#1a1a1a" stroke-width="2.5" />
<path d="M762.9 1419.5 L764.2 1432.9" stroke="#1a1a1a" stroke-width="2.5" />
<path d="M784.8 1422.4 L783.3 1438.6" stroke="#1a1a1a" stroke-width="2.5" />
<path d="M790.6 1423.3 L789 1439.9" stroke="#1a1a1a" stroke-width="2.5" />
<path d="M797.2 1424.6 L796.3 1441.5" stroke="#1a1a1a" stroke-width="2.5" />
<path d="M803.9 1411.3 L853.5 1417.9" stroke="#1a1a1a" stroke-width="2.5" />
<path d="M853.5 1417.9 L969.1 1436.6" stroke="#1a1a1a" stroke-width="2.5" />
<path d="M780 1421.7 L828.7 1430.9 L902.2 1441.4 L1007.3 1456.7" stroke="#1a1a1a" stroke-width="2.5" />
<path d="M827.8 1430.9 L830 1438.5 L837.3 1441.4 L902.2 1452.9" stroke="#1a1a1a" stroke-width="2.5" />
<path d="M830.6 1438.5 C836.5 1440.9 852.1 1448.2 866 1452.9 C879.8 1457.5 897.8 1462.2 913.7 1466.2 C929.6 1470.2 948.6 1473.9 961.5 1476.7 C974.3 1479.6 986.1 1482.3 991.1 1483.4" stroke="#1a1a1a" stroke-width="2.5" />
<path d="M937.6 1459.9 C940 1460.3 947 1460.6 951.9 1462.4 C956.8 1464.3 960.6 1468 967.2 1471 C973.8 1474 987.6 1478.6 991.6 1480.2" stroke="#1a1a1a" stroke-width="2.5" />
<path d="M894.6 1451.9 L902.2 1454.8" stroke="#1a1a1a" stroke-width="2.5" />
<path d="M991.1 1483.4 L991.6 1480.2" stroke="#1a1a1a" stroke-width="2.5" />
<path d="M780 1421.3 L781 1438.5 L811.5 1445.8 L814.8 1432.8 L799.1 1427.1" stroke="#1a1a1a" stroke-width="2.5" />
<path d="M785.7 1425.2 L784.2 1439.5" stroke="#1a1a1a" stroke-width="2.5" />
<path d="M791.8 1426.1 L790.5 1440.8" stroke="#1a1a1a" stroke-width="2.5" />
<path d="M798.1 1427.1 L796.8 1442.4" stroke="#1a1a1a" stroke-width="2.5" />
<path d="M972.9 1418.5 L1007.3 1423.3" stroke="#1a1a1a" stroke-width="2.5" />
<path d="M1007.3 1423.3 L1008.4 1431.3 L1018.8 1435.1 L1019.1 1456.7" stroke="#1a1a1a" stroke-width="2.5" />
<circle cx="988.2" cy="1436.6" r="3.8" stroke="#1a1a1a" stroke-width="2.5" fill="none"/>
<path d="M982.5 1448.1 C983.1 1449.2 984.1 1453.3 986.3 1454.8 C988.5 1456.2 990.4 1455.9 995.8 1456.7 C1001.2 1457.5 1014.9 1459.1 1018.8 1459.5" stroke="#1a1a1a" stroke-width="2.5" />
<path d="M938.5 1442.4 L1007.3 1450.9" stroke="#1a1a1a" stroke-width="2.5" />
<path d="M938.5 1445.8 L1007.3 1454.2" stroke="#1a1a1a" stroke-width="2.5" />
<path d="M1008.3 1445.8 L1018.8 1446.6 L1018.8 1456.1 L1009.2 1455.3 L1008.3 1445.8" stroke="#1a1a1a" stroke-width="3.25" />
<path d="M1012.1 1448.1 L1012.6 1454.8" stroke="#1a1a1a" stroke-width="3.75" />
<path d="M1015.9 1448.5 L1016.3 1455" stroke="#1a1a1a" stroke-width="2.5" />
<path d="M901.3 1430.9 L937.6 1435.7 L937.6 1459.9 L901.3 1454.8 L901.3 1430.9" stroke="#1a1a1a" stroke-width="2.5" style="fill:#fff"/>
<path d="M886.9 1449.6 C891 1451 902.7 1454.8 911.3 1457.8 C919.9 1460.8 929.3 1465.1 938.4 1467.9 C947.5 1470.7 957.1 1472.6 965.6 1474.7 C974.1 1476.8 985.3 1479.6 989.3 1480.6" stroke="#1a1a1a" stroke-width="2.5" />
<circle cx="1040.4" cy="1448.9" r="8.3" stroke="#1a1a1a" stroke-width="2.5" fill="#fff"/>
<circle cx="1040.4" cy="1448.9" r="4.3" stroke="#1a1a1a" stroke-width="2.5" fill="none"/>
<circle cx="1046.5" cy="1468.8" r="5.2" stroke="#1a1a1a" stroke-width="2.5" fill="#fff"/>
<path d="M1023.5 1471.6 L1030 1472.6" stroke="#1a1a1a" stroke-width="2.0" />
<path d="M765.7 1342.1 L864 1349.7 L864 1382.8 L761.9 1368.9" stroke="#1a1a1a" stroke-width="2.5" style="fill:#fff"/>
<path d="M867.5 1350.3 L867.5 1382.4" stroke="#1a1a1a" stroke-width="3.25" />
<path d="M867.9 1354.5 L1024.5 1369.8 L1024.5 1394 L867.9 1378.4 L867.9 1354.5" stroke="#1a1a1a" stroke-width="2.5" style="fill:#fff"/>
<path d="M1027.2 1370.5 L1027.2 1393.5" stroke="#1a1a1a" stroke-width="3.25" />
<path d="M1027.4 1373.6 L1120 1383.6 L1120 1400.2 L1027.4 1390.8" stroke="#1a1a1a" stroke-width="2.5" style="fill:#fff"/>
<path d="M1120.1 1384.3 L1145.1 1384.3 L1145.1 1400.9 L1120.1 1400.9 L1120.1 1384.3" stroke="#1a1a1a" stroke-width="2.5" style="fill:#fff"/>
<circle cx="1132.2" cy="1392.6" r="6.4" stroke="#1a1a1a" stroke-width="2.5" fill="#fff"/>
<path d="M1123.5 1385.2 L1123.5 1400" stroke="#1a1a1a" stroke-width="2.5" />
<path d="M1141.4 1385.2 L1141.4 1400" stroke="#1a1a1a" stroke-width="2.5" />
<circle cx="753.3" cy="1354.6" r="13.6" stroke="#1a1a1a" stroke-width="3.0" fill="#fff"/>
<circle cx="753.3" cy="1354.6" r="10.8" stroke="#1a1a1a" stroke-width="2.0" fill="none"/>
<circle cx="753.3" cy="1354.6" r="4.8" stroke="#1a1a1a" stroke-width="2.5" fill="none"/>
<path d="M751.4 1325.9 L758.1 1336.4" stroke="#1a1a1a" stroke-width="5.62" />
<path d="M754.6 1324.6 L761.9 1334.9" stroke="#1a1a1a" stroke-width="2.5" />
<text x="939" y="1310.6" class="lb" textLength="79.5" lengthAdjust="spacingAndGlyphs" text-anchor="start">224a</text>
<text x="1191.5" y="1382.4" class="lb" textLength="59.1" lengthAdjust="spacingAndGlyphs" text-anchor="start">226</text>
<text x="1182" y="1474.2" class="lb" textLength="59.1" lengthAdjust="spacingAndGlyphs" text-anchor="start">204</text>
<text x="1130.5" y="1513.5" class="lb" textLength="59.1" lengthAdjust="spacingAndGlyphs" text-anchor="start">210</text>
<text x="1169.5" y="1565.7" class="lb" textLength="59.1" lengthAdjust="spacingAndGlyphs" text-anchor="start">226</text>
<text x="1211.5" y="1642" class="lb" textLength="59.1" lengthAdjust="spacingAndGlyphs" text-anchor="start">234</text>
<text x="1252.2" y="1870.1" class="lb" textLength="59.1" lengthAdjust="spacingAndGlyphs" text-anchor="start">226</text>
<text x="810" y="1606.2" class="lb" textLength="59.1" lengthAdjust="spacingAndGlyphs" text-anchor="start">232</text>
<text x="826" y="1858.8" class="lb" textLength="59.1" lengthAdjust="spacingAndGlyphs" text-anchor="start">226</text>
<text x="433.5" y="1556" class="lb" textLength="59.1" lengthAdjust="spacingAndGlyphs" text-anchor="start">230</text>
<text x="661.5" y="1495.8" class="lb" textLength="59.1" lengthAdjust="spacingAndGlyphs" text-anchor="start">226</text>
<text x="444.6" y="1815" class="lb" textLength="59.1" lengthAdjust="spacingAndGlyphs" text-anchor="start">226</text>
<text x="779.5" y="1999.8" class="fig" textLength="113.5" lengthAdjust="spacingAndGlyphs" text-anchor="start">FIG. 7</text>
<path d="M1088.8 1092 C1092.9 1092.2 1105.8 1090.3 1113.2 1093.1 C1120.6 1095.9 1129 1104.9 1133.2 1108.6 C1137.5 1112.3 1137.8 1114.2 1138.7 1115.3" stroke="#222" stroke-width="2.12" />
<path d="M1386.7 820.8 C1383.3 821.7 1373.2 822.1 1366.4 826.4 C1359.6 830.7 1351.2 843 1346 846.7 C1340.8 850.4 1336.8 848.2 1334.9 848.5" stroke="#222" stroke-width="2.12" />
<path d="M1253.2 1152.7 C1255.5 1153.2 1262.6 1153 1267.1 1155.8 C1271.6 1158.6 1275.8 1165.9 1280.2 1169.7 C1284.6 1173.5 1289.1 1176.8 1293.2 1178.4 C1297.3 1180 1302.7 1179.2 1304.6 1179.3" stroke="#222" stroke-width="2.12" />
<path d="M704.8 1243.6 C706.3 1247.6 709.8 1260.2 714.1 1267.6 C718.4 1275 727.9 1284.6 730.7 1288" stroke="#222" stroke-width="2.12" />
<path d="M792.6 1264.9 C791.2 1269.7 790.6 1283.2 784.3 1293.5 C778 1303.8 759.6 1321.2 754.7 1326.8" stroke="#222" stroke-width="2.12" />
<path d="M599.5 1341.6 C603.5 1342.5 615.8 1341.9 623.5 1347.1 C631.2 1352.3 637.7 1367.6 645.7 1373 C653.7 1378.4 667.3 1378.4 671.6 1379.5" stroke="#222" stroke-width="2.12" />
<path d="M978.7 1317.2 C978.4 1319.3 980.3 1324.4 976.8 1329.7 C973.3 1335 961.9 1342.4 957.7 1348.8 C953.6 1355.2 952.9 1364.7 951.9 1367.9" stroke="#222" stroke-width="2.12" />
<path d="M1183 1366.7 C1180.2 1367.6 1171.3 1369.1 1166.4 1372.2 C1161.5 1375.3 1156.8 1382.1 1153.4 1385.2 C1150 1388.3 1147.2 1389.8 1146 1390.7" stroke="#222" stroke-width="2.12" />
<path d="M1173.8 1457.3 C1171 1456.4 1162 1454.8 1157.1 1451.7 C1152.2 1448.6 1149.8 1442.3 1144.2 1438.8 C1138.7 1435.3 1127.2 1431.9 1123.8 1430.5" stroke="#222" stroke-width="2.12" />
<path d="M1122 1498.9 C1118.9 1498.1 1109 1496.8 1103.5 1494.2 C1098 1491.6 1092.1 1485.6 1088.7 1483.1 C1085.3 1480.6 1084.1 1480 1083.2 1479.4" stroke="#222" stroke-width="2.12" />
<path d="M1162.9 1548.4 C1157.2 1546.8 1139.9 1545.6 1128.4 1538.6 C1116.9 1531.6 1105 1516.4 1093.9 1506.5 C1082.8 1496.6 1068.9 1484.7 1061.9 1479.4 C1054.9 1474.1 1053.7 1475.3 1052 1474.5" stroke="#222" stroke-width="2.12" />
<path d="M1203.6 1624.8 C1199.7 1625.6 1187 1626.1 1180.2 1629.8 C1173.4 1633.5 1165.8 1644.1 1162.9 1647" stroke="#222" stroke-width="2.12" />
<path d="M1260.3 1782.6 C1263 1785.1 1273 1789.2 1276.3 1797.4 C1279.6 1805.6 1279.4 1826.2 1280 1831.9" stroke="#222" stroke-width="2.12" />
<path d="M876.1 1590.2 C879.8 1590.6 891.5 1589 898.3 1592.7 C905.1 1596.4 913.7 1609.1 916.8 1612.4" stroke="#222" stroke-width="2.12" />
<path d="M835.5 1771.3 C838.2 1774.8 848.2 1784.3 851.5 1792.3 C854.8 1800.3 854.6 1814.9 855.2 1819.4" stroke="#222" stroke-width="2.12" />
<path d="M498.3 1540.2 C502 1540.6 513.3 1539 520.5 1542.7 C527.7 1546.4 537.9 1559.1 541.4 1562.4" stroke="#222" stroke-width="2.12" />
<path d="M667.1 1412 C669.8 1414.9 679.2 1421.5 683.1 1429.3 C687 1437.1 689.3 1454 690.5 1458.9" stroke="#222" stroke-width="2.12" />
<path d="M451.5 1727.5 C454.4 1730.4 465 1737 468.7 1744.8 C472.4 1752.6 472.9 1769.4 473.7 1774.3" stroke="#222" stroke-width="2.12" />
<path d="M758.3 802.1 C761.4 802.3 771.2 801.3 777.1 803.3 C783 805.3 789.4 810.3 793.5 813.9 C797.6 817.5 800.6 823.1 802 825" stroke="#222" stroke-width="2.75" />
<path d="M805.6 830.4 L789.6 821.6 L796.5 818.6 L802.6 812.2 Z" style="fill:#222" stroke="#222" stroke-width="1"/>
<path d="M956.2 1014 C959.1 1014.2 968.1 1013.2 973.7 1015.2 C979.4 1017.2 985.9 1021.9 990.1 1025.7 C994.3 1029.5 997.5 1036 999 1038" stroke="#222" stroke-width="2.75" />
<path d="M1002.7 1043.4 L987.4 1034.2 L994 1031.4 L999.3 1025.2 Z" style="fill:#222" stroke="#222" stroke-width="1"/>
</svg>
</body></html>
